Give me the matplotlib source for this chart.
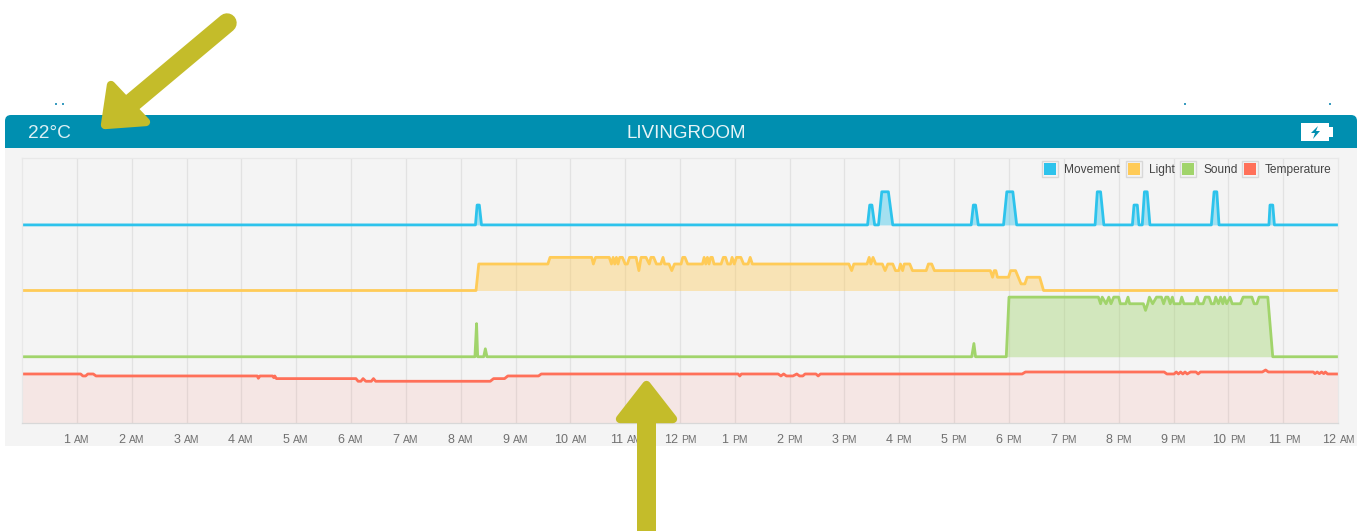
import matplotlib
matplotlib.use("Agg")
import matplotlib.pyplot as plt
from matplotlib.patches import FancyBboxPatch, Rectangle, Polygon

plt.rcParams['font.family'] = ['Liberation Sans', 'DejaVu Sans']

#Data, hours since midnight and sensor level
movement_h = [0, 8.27, 8.30, 8.34, 8.38, 15.42, 15.46, 15.50, 15.55, 15.62, 15.68, 15.80, 15.88,
              17.31, 17.35, 17.39, 17.44, 17.90, 17.96, 18.07, 18.14, 19.57, 19.61, 19.67, 19.73,
              20.25, 20.28, 20.34, 20.37, 20.43, 20.47, 20.52, 20.57, 21.69, 21.74, 21.79, 21.83,
              22.74, 22.76, 22.81, 22.84, 24]
movement_v = [0, 0, 3, 3, 0, 0, 3, 3, 0, 0, 5, 5, 0,
              0, 3, 3, 0, 0, 5, 5, 0, 0, 5, 5, 0,
              0, 3, 3, 0, 0, 5, 5, 0, 0, 5, 5, 0,
              0, 3, 3, 0, 0]

light_h = [0, 8.28, 8.33, 9.59, 9.63, 10.39, 10.42, 10.46, 10.71, 10.75, 10.78, 10.81, 10.84, 10.87,
           10.90, 10.95, 11.00, 11.04, 11.08, 11.20, 11.25, 11.29, 11.38, 11.44, 11.47, 11.52, 11.57,
           11.65, 11.69, 11.72, 11.80, 11.85, 11.90, 12.02, 12.05, 12.09, 12.14, 12.41, 12.44, 12.47,
           12.50, 12.53, 12.56, 12.59, 12.62, 12.75, 12.79, 12.83, 12.87, 12.92, 12.95, 12.99, 13.03,
           13.11, 13.16, 13.24, 13.28, 13.32, 15.08, 15.13, 15.17, 15.41, 15.45, 15.48, 15.52, 15.57,
           15.69, 15.74, 15.79, 15.88, 15.93, 15.99, 16.02, 16.06, 16.09, 16.19, 16.24, 16.49, 16.53,
           16.59, 16.64, 17.66, 17.70, 17.73, 17.76, 17.79, 17.99, 18.03, 18.12, 18.17, 18.22, 18.29,
           18.33, 18.56, 18.63, 24]
light_v = [0, 0, 4, 4, 5, 5, 4, 5, 5, 4, 5, 4, 5, 4,
           5, 5, 4, 4, 5, 5, 3, 5, 5, 4, 5, 5, 4,
           4, 5, 4, 4, 3, 4, 4, 5, 5, 4, 4, 5, 4,
           5, 4, 5, 5, 4, 4, 5, 5, 4, 4, 5, 4, 5,
           5, 4, 4, 5, 4, 4, 3, 4, 4, 5, 4, 5, 4,
           4, 3, 4, 4, 3, 3, 4, 3, 4, 4, 3, 3, 4,
           4, 3, 3, 2, 3, 3, 2, 2, 3, 3, 2, 1, 1,
           2, 2, 0, 0]

sound_h = [0, 8.26, 8.29, 8.31, 8.42, 8.45, 8.48, 17.32, 17.36, 17.39, 17.95, 18.00, 19.63, 19.67,
           19.70, 19.77, 19.82, 19.86, 19.91, 20.00, 20.03, 20.13, 20.17, 20.20, 20.45, 20.49, 20.53,
           20.56, 20.62, 20.69, 20.78, 20.82, 20.86, 20.90, 20.94, 20.98, 21.01, 21.12, 21.15, 21.19,
           21.39, 21.43, 21.46, 21.54, 21.58, 21.65, 21.69, 21.74, 21.77, 21.82, 21.86, 21.90, 21.93,
           21.97, 22.03, 22.07, 22.22, 22.27, 22.43, 22.47, 22.52, 22.56, 22.72, 22.81, 24]
sound_v = [0, 0, 5, 0, 0, 1.2, 0, 0, 2, 0, 0, 9, 9, 8,
           9, 8, 9, 8, 9, 9, 8, 8, 9, 8, 8, 7, 8,
           9, 8, 9, 9, 8, 9, 9, 8, 9, 8, 8, 9, 8,
           8, 9, 8, 8, 9, 9, 8, 8, 9, 8, 9, 8, 9,
           8, 9, 8, 8, 9, 9, 8, 8, 9, 9, 0, 0]

temp_h = [0, 1.07, 1.11, 1.16, 1.20, 1.30, 1.35, 4.29, 4.31, 4.34, 4.57, 4.59, 4.61, 4.64, 6.09, 6.13,
          6.18, 6.22, 6.27, 6.37, 6.41, 6.45, 8.54, 8.60, 8.80, 8.86, 9.42, 9.47, 13.06, 13.09, 13.12,
          13.79, 13.84, 13.89, 13.94, 14.06, 14.13, 14.18, 14.24, 14.28, 14.48, 14.52, 14.56, 18.24,
          18.30, 20.83, 20.88, 21.01, 21.05, 21.09, 21.13, 21.17, 21.21, 21.25, 21.31, 21.41, 21.45,
          21.49, 22.62, 22.68, 22.73, 23.55, 23.58, 23.62, 23.66, 23.70, 23.74, 23.77, 23.81, 24]
temp_v = [7.4, 7.4, 7.1, 7.1, 7.4, 7.4, 7.1, 7.1, 6.75, 7.1, 7.1, 6.85, 7.1, 6.7, 6.7, 6.3,
          6.3, 6.7, 6.3, 6.3, 6.7, 6.3, 6.3, 6.7, 6.7, 7.1, 7.1, 7.4, 7.4, 7.1, 7.4,
          7.4, 7.1, 7.4, 7.1, 7.1, 7.4, 7.1, 7.1, 7.4, 7.4, 7.1, 7.4, 7.4,
          7.7, 7.7, 7.4, 7.4, 7.7, 7.4, 7.7, 7.4, 7.7, 7.4, 7.7, 7.7, 7.4,
          7.7, 7.7, 8.0, 7.7, 7.7, 7.45, 7.7, 7.45, 7.7, 7.45, 7.7, 7.4, 7.4]

hour_numbers = ["1", "2", "3", "4", "5", "6", "7", "8", "9", "10", "11", "12",
                "1", "2", "3", "4", "5", "6", "7", "8", "9", "10", "11", "12"]
hour_suffix = ["AM"] * 11 + ["PM"] * 12 + ["AM"]
series_names = ["Movement", "Light", "Sound", "Temperature"]
series_colors = ["#2DC3EC", "#FFCB57", "#A1D46B", "#FF7059"]

W, H = 1364, 531
fig = plt.figure(figsize=(W / 100, H / 100), dpi=100, facecolor="white")

#Card and header, in pixel coordinates
back = fig.add_axes([0, 0, 1, 1], zorder=0)
back.set_xlim(0, W)
back.set_ylim(H, 0)
back.axis("off")
back.add_patch(Rectangle((5, 140), 1352, 306, fc="#F4F4F4", ec="none"))
back.add_patch(FancyBboxPatch((5, 115), 1352, 33, boxstyle="round,pad=0,rounding_size=6", fc="#008FB0", ec="none"))
back.add_patch(Rectangle((5, 130), 1352, 18, fc="#008FB0", ec="none"))
back.text(28, 133.5, "22°C", color="#DDF0F5", fontsize=13.8, va="center", ha="left")
back.text(686, 133.5, "LIVINGROOM", color="#E6F4F7", fontsize=13.5, va="center", ha="center")
back.add_patch(Rectangle((1301, 123), 28, 18, fc="white", ec="none"))
back.add_patch(Rectangle((1329, 127), 4, 10, fc="white", ec="none"))
back.add_patch(Polygon([(1318, 126), (1311, 133), (1315, 133), (1313, 139), (1320, 131), (1316, 131)], fc="#008FB0", ec="none"))
for dot_x in [56, 63, 1185, 1330]:
    back.add_patch(Rectangle((dot_x - 1, 103), 2, 2, fc="#3A9CC0", ec="none"))

#Main chart, four stacked bands of 10 units
ax = fig.add_axes([22 / W, 1 - 423 / H, 1316 / W, 265 / H], zorder=1)
ax.set_facecolor("#F4F4F4")
ax.set_xlim(0, 24)
ax.set_ylim(0, 40)
ax.set_yticks([])
ax.set_xticks(range(1, 24))
ax.tick_params(axis="x", length=0, labelbottom=False)
ax.grid(axis="x", color="#E2E2E2", lw=0.9)
ax.set_axisbelow(True)
for name, spine in ax.spines.items():
    spine.set_color("#D8D8D8" if name == "bottom" else "#E8E8E8")
    spine.set_linewidth(0.9)

all_series = [(movement_h, movement_v, 29.9), (light_h, light_v, 20), (sound_h, sound_v, 10), (temp_h, temp_v, 0)]
for (hours, values, base), color in zip(all_series, series_colors):
    shifted = [v + base for v in values]
    ax.fill_between(hours, base, shifted, color=color, alpha=0.1 if base == 0 else 0.4, lw=0)
    ax.plot(hours, shifted, color=color, lw=2.0, solid_joinstyle="round")

#Tick labels, hour number with a smaller AM/PM
for i, (num, suffix) in enumerate(zip(hour_numbers, hour_suffix)):
    shift = -3 if len(num) == 1 else 1.5
    ax.annotate(num, (i + 1, 0), xycoords=ax.get_xaxis_transform(), xytext=(shift - 3.5, -20),
                textcoords="offset pixels", ha="right", va="baseline", fontsize=9, color="#707070",
                annotation_clip=False)
    ax.annotate(suffix, (i + 1, 0), xycoords=ax.get_xaxis_transform(), xytext=(shift, -20),
                textcoords="offset pixels", ha="left", va="baseline", fontsize=7.4, color="#707070",
                annotation_clip=False)

#Legend and arrows on top
top = fig.add_axes([0, 0, 1, 1], zorder=2)
top.set_xlim(0, W)
top.set_ylim(H, 0)
top.axis("off")
swatch_x = [1042, 1126, 1180, 1242]
label_x = [1064, 1149, 1203, 1265]
for sx, lx, name, color in zip(swatch_x, label_x, series_names, series_colors):
    top.add_patch(Rectangle((sx, 160.5), 16, 16, fc="#F4F4F4", ec="#D8D8D8", lw=1))
    top.add_patch(Rectangle((sx + 2, 162.5), 12, 12, fc=color, ec="none"))
    top.text(lx, 170, name, fontsize=8.6, color="#444444", va="center", ha="left")

olive = "#C4BC2A"
top.plot([227, 128], [23, 106], color=olive, lw=14, solid_capstyle="round")
top.add_patch(Polygon([(111, 85), (146, 122), (105, 125)], fc=olive, ec=olive, lw=6, joinstyle="round"))
top.add_patch(Rectangle((637, 415), 19, 116, fc=olive, ec="none"))
top.add_patch(Polygon([(646.5, 385), (673, 419), (620, 419)], fc=olive, ec=olive, lw=6, joinstyle="round"))

fig.savefig("out.png", dpi=100, facecolor="white")
